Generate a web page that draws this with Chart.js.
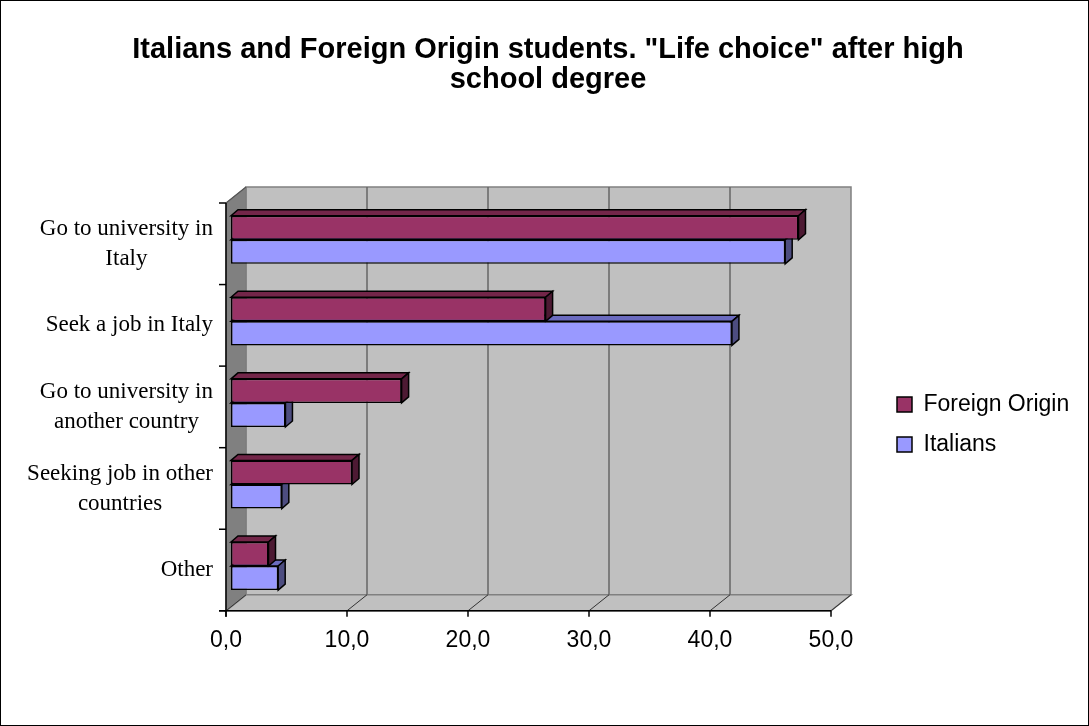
<!DOCTYPE html>
<html><head><meta charset="utf-8">
<script src="https://cdn.jsdelivr.net/npm/chart.js@4/dist/chart.umd.min.js"></script>
<style>html,body{margin:0;padding:0;background:#fff;}canvas{display:block}</style>
</head><body>
<canvas id="c" width="1089" height="726"></canvas>
<script>
// ---- data ----
const categories = [["Go to university in", "Italy"], "Seek a job in Italy", ["Go to university in", "another country"], ["Seeking job in other", "countries"], "Other"];
const seriesNames = ["Foreign Origin", "Italians"];
const foreignOrigin = [46.9, 26.0, 14.1, 10.0, 3.1];
const italians = [45.8, 41.4, 4.5, 4.2, 3.9];
const xTicks = [0, 10, 20, 30, 40, 50];
const titleLines = ['Italians and Foreign Origin students. "Life choice" after high', 'school degree'];

// ---- styles ----
const frontColors = ['#993366', '#9999ff'];
const topColors = ['#732649', '#6b6bbf'];
const sideColors = ['#4d1a33', '#4d4d80'];
const SANS = "'Liberation Sans', Arial, sans-serif";
const SERIF = "'Liberation Serif', 'Times New Roman', serif";
const FRONT = {x: -5, y: 4};   // front plane offset from bar plane
const BACK = {x: 15, y: -12};  // back plane offset from bar plane
const DEPTH = {x: 7, y: 6};    // bar depth

function poly(ctx, pts, fill, stroke, lw) {
  ctx.beginPath();
  ctx.moveTo(pts[0][0], pts[0][1]);
  for (let i = 1; i < pts.length; i++) ctx.lineTo(pts[i][0], pts[i][1]);
  ctx.closePath();
  if (fill) { ctx.fillStyle = fill; ctx.fill(); }
  if (stroke) { ctx.strokeStyle = stroke; ctx.lineWidth = lw || 1; ctx.lineJoin = 'miter'; ctx.stroke(); }
}
function line(ctx, x1, y1, x2, y2, color, lw) {
  ctx.beginPath(); ctx.moveTo(x1, y1); ctx.lineTo(x2, y2);
  ctx.strokeStyle = color; ctx.lineWidth = lw; ctx.stroke();
}

const chart3d = {
  id: 'chart3d',
  beforeDraw(chart) {
    const ctx = chart.ctx;
    ctx.save(); ctx.fillStyle = '#fff'; ctx.fillRect(0, 0, chart.width, chart.height); ctx.restore();
    const ys = chart.scales.y;
    if (!ys.__wrapped) {
      const orig = ys.drawLabels.bind(ys);
      ys.drawLabels = function (area) {
        const items = this.getLabelItems(area);
        const c = this.ctx;
        const right = this.right - this.options.ticks.padding;
        c.save();
        items.forEach(it => {
          c.font = it.font.string;
          const lines = Array.isArray(it.label) ? it.label : [it.label];
          const w = Math.max(...lines.map(l => c.measureText(l).width));
          it.options.textAlign = 'center';
          it.options.translation = [right - w / 2, it.options.translation[1]];
        });
        c.restore();
        orig(area);
      };
      ys.__wrapped = true;
    }
  },
  afterLayout(chart) {
    const lg = chart.legend;
    const w = lg.width, h = lg.height;
    lg.left = 880; lg.top = 376;
    lg.right = lg.left + w; lg.bottom = lg.top + h;
    const tb = chart.titleBlock;
    tb.left = 0; tb.right = 1096; tb.width = 1096;
  },
  beforeDatasetsDraw(chart) {
    const {ctx, chartArea: ca, scales: {x: xs, y: ys}} = chart;
    const F = FRONT, B = BACK;
    ctx.save();
    // back wall
    ctx.beginPath();
    ctx.rect(ca.left + B.x, ca.top + B.y, ca.right - ca.left, ca.bottom - ca.top);
    ctx.fillStyle = '#c0c0c0'; ctx.fill();
    ctx.strokeStyle = '#808080'; ctx.lineWidth = 1.5; ctx.stroke();
    // left wall
    poly(ctx, [[ca.left + F.x, ca.top + F.y], [ca.left + B.x, ca.top + B.y], [ca.left + B.x, ca.bottom + B.y], [ca.left + F.x, ca.bottom + F.y]], '#808080', '#7a7a7a', 1);
    // floor
    poly(ctx, [[ca.left + F.x, ca.bottom + F.y], [ca.left + B.x, ca.bottom + B.y], [ca.right + B.x, ca.bottom + B.y], [ca.right + F.x, ca.bottom + F.y]], '#c0c0c0', '#808080', 1.5);
    // grid lines
    xs.ticks.forEach(t => {
      const px = xs.getPixelForValue(t.value);
      if (t.value > 0 && t.value < 50) line(ctx, px + B.x, ca.top + B.y, px + B.x, ca.bottom + B.y, '#666666', 1.5);
      line(ctx, px + B.x, ca.bottom + B.y, px + F.x, ca.bottom + F.y, '#333333', 1);
      line(ctx, px + F.x, ca.bottom + F.y, px + F.x, ca.bottom + F.y + 6, '#000', 1.5);
    });
    // left wall top edge
    line(ctx, ca.left + F.x, ca.top + F.y, ca.left + B.x, ca.top + B.y, '#555', 1.2);
    // axis lines
    line(ctx, ca.left + F.x - 7, ca.bottom + F.y, ca.right + F.x, ca.bottom + F.y, '#000', 1.5);
    line(ctx, ca.left + F.x, ca.top + F.y, ca.left + F.x, ca.bottom + F.y + 6, '#000', 1.5);
    for (let k = 0; k <= categories.length; k++) {
      const y = ys.getPixelForValue(k - 0.5) + F.y;
      line(ctx, ca.left + F.x - 7, y, ca.left + F.x, y, '#000', 1.5);
    }
    // bar top & side faces
    [1, 0].forEach(di => {
      const meta = chart.getDatasetMeta(di);
      meta.data.forEach(el => {
        const p = el.getProps(['x', 'y', 'base', 'height'], true);
        const t = p.y - p.height / 2, b = p.y + p.height / 2;
        poly(ctx, [[p.base, t], [p.base + DEPTH.x, t - DEPTH.y], [p.x + DEPTH.x, t - DEPTH.y], [p.x, t]], topColors[di], '#000', 1.5);
        poly(ctx, [[p.x, t], [p.x + DEPTH.x, t - DEPTH.y], [p.x + DEPTH.x, b - DEPTH.y], [p.x, b]], sideColors[di], '#000', 1.5);
      });
    });
    ctx.restore();
  },
  afterDraw(chart) {
    const ctx = chart.ctx;
    ctx.save(); ctx.strokeStyle = '#000'; ctx.lineWidth = 1;
    ctx.strokeRect(0.5, 0.5, chart.width - 1, chart.height - 1);
    ctx.restore();
  }
};

new Chart(document.getElementById('c'), {
  type: 'bar',
  data: {
    labels: categories,
    datasets: [
      {label: seriesNames[0], data: foreignOrigin, backgroundColor: frontColors[0], borderColor: '#000', borderWidth: 1.5, borderSkipped: false},
      {label: seriesNames[1], data: italians, backgroundColor: frontColors[1], borderColor: '#000', borderWidth: 1.5, borderSkipped: false}
    ]
  },
  options: {
    indexAxis: 'y',
    responsive: false,
    animation: false,
    devicePixelRatio: 1,
    layout: {padding: {left: 0, right: 253, top: 0, bottom: 59.6}},
    datasets: {bar: {categoryPercentage: 0.59, barPercentage: 1}},
    plugins: {
      title: {
        display: true, text: titleLines, color: '#000',
        font: {family: SANS, size: 29, weight: 'bold', lineHeight: 30 / 29},
        padding: {top: 35, bottom: 104}
      },
      legend: {
        position: 'chartArea', align: 'start',
        labels: {boxWidth: 15, boxHeight: 15, padding: 17, color: '#000', font: {family: SANS, size: 23}}
      },
      tooltip: {enabled: false}
    },
    scales: {
      x: {
        min: 0, max: 50,
        grid: {display: false}, border: {display: false},
        afterBuildTicks(s) { s.ticks = xTicks.map(v => ({value: v})); },
        ticks: {padding: 12, labelOffset: -5, color: '#000', font: {family: SANS, size: 23},
          callback: v => Number(v).toFixed(1).replace('.', ',')}
      },
      y: {
        grid: {display: false}, border: {display: false},
        afterFit(s) { s.width = 231; },
        ticks: {padding: 18, labelOffset: 4, color: '#000', font: {family: SERIF, size: 23, lineHeight: 30 / 23}}
      }
    }
  },
  plugins: [chart3d]
});
</script>
</body></html>
